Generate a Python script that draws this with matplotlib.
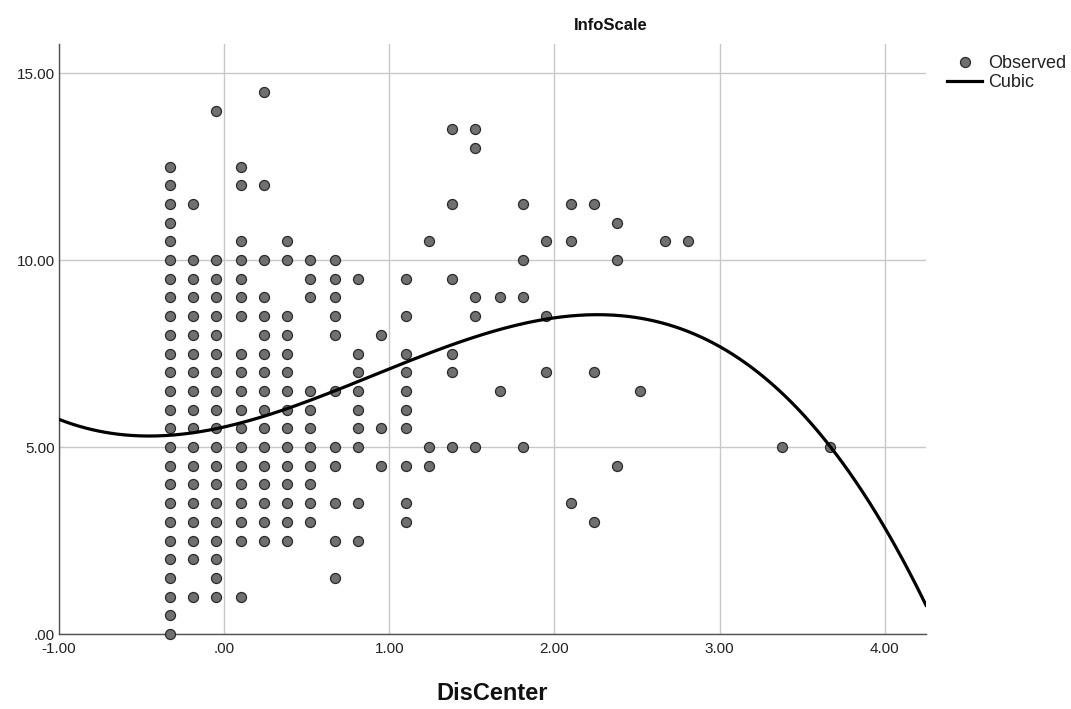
import numpy as np
import matplotlib
matplotlib.use("Agg")
import matplotlib.pyplot as plt
from matplotlib.lines import Line2D

plt.rcParams['font.family'] = ['Liberation Sans', 'DejaVu Sans']

# DisCenter column positions (x) and InfoScale observations (y) per column
disc_columns = [-0.33, -0.19, -0.05, 0.10, 0.24, 0.38, 0.52, 0.67, 0.81, 0.95,
                1.10, 1.24, 1.38, 1.52, 1.67, 1.81, 1.95, 2.10, 2.24, 2.38,
                2.52, 2.67, 2.81, 3.38, 3.67]
info_m033 = [0, 0.5, 1, 1.5, 2, 2.5, 3, 3.5, 4, 4.5, 5, 5.5, 6, 6.5, 7, 7.5, 8,
             8.5, 9, 9.5, 10, 10.5, 11, 11.5, 12, 12.5]
info_m019 = [1, 2, 2.5, 3, 3.5, 4, 4.5, 5, 5.5, 6, 6.5, 7, 7.5, 8, 8.5, 9, 9.5,
             10, 11.5]
info_m005 = [1, 1.5, 2, 2.5, 3, 3.5, 4, 4.5, 5, 5.5, 6, 6.5, 7, 7.5, 8, 8.5, 9,
             9.5, 10, 14]
info_p010 = [1, 2.5, 3, 3.5, 4, 4.5, 5, 5.5, 6, 6.5, 7, 7.5, 8.5, 9, 9.5, 10,
             10.5, 12, 12.5]
info_p024 = [2.5, 3, 3.5, 4, 4.5, 5, 5.5, 6, 6.5, 7, 7.5, 8, 8.5, 9, 10, 12, 14.5]
info_p038 = [2.5, 3, 3.5, 4, 4.5, 5, 5.5, 6, 6.5, 7, 7.5, 8, 8.5, 10, 10.5]
info_p052 = [3, 3.5, 4, 4.5, 5, 5.5, 6, 6.5, 9, 9.5, 10]
info_p067 = [1.5, 2.5, 3.5, 4.5, 5, 6.5, 8, 8.5, 9, 9.5, 10]
info_p081 = [2.5, 3.5, 5, 5.5, 6, 6.5, 7, 7.5, 9.5]
info_p095 = [4.5, 5.5, 8]
info_p110 = [3, 3.5, 4.5, 5.5, 6, 6.5, 7, 7.5, 8.5, 9.5]
info_p124 = [4.5, 5, 10.5]
info_p138 = [5, 7, 7.5, 9.5, 11.5, 13.5]
info_p152 = [5, 8.5, 9, 13, 13.5]
info_p167 = [6.5, 9]
info_p181 = [5, 9, 10, 11.5]
info_p195 = [7, 8.5, 10.5]
info_p210 = [3.5, 10.5, 11.5]
info_p224 = [3, 7, 11.5]
info_p238 = [4.5, 10, 11]
info_p252 = [6.5]
info_p267 = [10.5]
info_p281 = [10.5]
info_p338 = [5]
info_p367 = [5]

info_columns = [info_m033, info_m019, info_m005, info_p010, info_p024, info_p038,
                info_p052, info_p067, info_p081, info_p095, info_p110, info_p124,
                info_p138, info_p152, info_p167, info_p181, info_p195, info_p210,
                info_p224, info_p238, info_p252, info_p267, info_p281, info_p338,
                info_p367]

# Cubic fit curve at several x positions
curve_x_read = [-1.0, 0.0, 1.0, 2.27, 3.0, 3.68, 4.0, 4.25]
curve_y_read = [5.74, 5.53, 7.12, 8.50, 7.68, 5.0, 2.87, 0.73]

x_ticks = [-1, 0, 1, 2, 3, 4]
x_tick_labels = ["-1.00", ".00", "1.00", "2.00", "3.00", "4.00"]
y_ticks = [0, 5, 10, 15]
y_tick_labels = [".00", "5.00", "10.00", "15.00"]

obs_x = np.concatenate([[x] * len(ys) for x, ys in zip(disc_columns, info_columns)])
obs_y = np.concatenate([ys for ys in info_columns])

W, H = 1071, 709
fig = plt.figure(figsize=(W / 100, H / 100), dpi=100)
ax = fig.add_axes([59 / W, 1 - 634 / H, (926 - 59) / W, (634 - 44) / H])

ax.set_xlim(-1.0, 4.25)
ax.set_ylim(0, 15.78)

ax.grid(True, color='#c8c8c8', linewidth=1.0, zorder=0)
ax.set_axisbelow(True)

ax.scatter(obs_x, obs_y, s=52, facecolor='#707070', edgecolor='#2a2a2a',
           linewidths=0.9, zorder=3, clip_on=False)

coefs = np.polyfit(curve_x_read, curve_y_read, 3)
xs = np.linspace(-1.0, 4.25, 400)
ax.plot(xs, np.polyval(coefs, xs), color='black', linewidth=2.3, zorder=4)

for side in ['top', 'right']:
    ax.spines[side].set_visible(False)
for side in ['left', 'bottom']:
    ax.spines[side].set_color('#505050')
    ax.spines[side].set_linewidth(1.0)

ax.set_xticks(x_ticks)
ax.set_xticklabels(x_tick_labels)
ax.set_yticks(y_ticks)
ax.set_yticklabels(y_tick_labels)
ax.tick_params(axis='both', length=0, labelsize=11, colors='#222222')
ax.tick_params(axis='x', pad=6)
ax.tick_params(axis='y', pad=3)

fig.text(611 / W, 1 - 26 / H, "InfoScale", ha='center', va='center',
         fontsize=12, fontweight='bold', color='#111111')
fig.text(492 / W, 1 - 693 / H, "DisCenter", ha='center', va='center',
         fontsize=17, fontweight='bold', color='#111111')

handles = [Line2D([], [], linestyle='none', marker='o', markersize=7.2,
                  markerfacecolor='#707070', markeredgecolor='#2a2a2a',
                  markeredgewidth=0.9),
           Line2D([], [], color='black', linewidth=2.3)]
fig.legend(handles, ["Observed", "Cubic"], loc='upper left',
           bbox_to_anchor=(947 / W, 1 - 55 / H), frameon=False,
           fontsize=13, handlelength=1.95, handletextpad=0.33,
           labelspacing=0.12, borderpad=0, borderaxespad=0,
           labelcolor='#222222')

fig.savefig("out.png", dpi=100)
